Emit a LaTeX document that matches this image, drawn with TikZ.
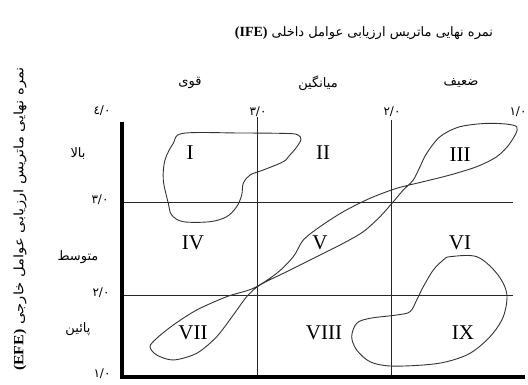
\documentclass[tikz,border=0pt]{standalone}
\usepackage{fontspec}
\setmainfont{Liberation Serif}
\newfontfamily\arabicfont[Script=Arabic]{DejaVu Sans}
\TeXXeTstate=1
\begin{document}
\begin{tikzpicture}[x=1pt,y=-1pt,
  gridline/.style={line width=0.9pt,black!85},
  axisline/.style={line width=3.6pt,black},
  blob/.style={line width=0.9pt,black!80},
  roman/.style={font=\fontsize{21}{22}\selectfont,inner sep=0pt},
  arlab/.style={font=\arabicfont\fontsize{13}{14}\selectfont,inner sep=0pt},
  numlab/.style={font=\arabicfont\fontsize{12}{13}\selectfont,inner sep=0pt},
  titlelab/.style={font=\arabicfont\fontsize{13}{14}\selectfont,inner sep=0pt}]
\useasboundingbox (0,0) rectangle (528,385);
\fill[white] (0,0) rectangle (528,385);

% corner coordinates
\coordinate (axtop) at (122,122);
\coordinate (orig) at (122,377);
\coordinate (axright) at (525,377);

% grid
\draw[gridline] (122,202) coordinate (h1a) -- (513,202) coordinate (h1b);
\draw[gridline] (122,295) coordinate (h2a) -- (513,295) coordinate (h2b);
\draw[gridline] (257,117) coordinate (v1a) -- (257,377) coordinate (v1b);
\draw[gridline] (391,120) coordinate (v2a) -- (391,377) coordinate (v2b);
\draw[axisline] (axtop) -- (orig) -- (axright);

% blobs
\draw[blob] plot[smooth cycle,tension=0.55] coordinates {
 (183.3,133.3) (240,133) (288,133.5) (298,135) (301,139.5) (296,148)
 (289,156) (283.3,161.7)
 (263.3,170) (250,175) (243.3,183.3) (241.7,195) (236.7,206.7)
 (226.7,216.7) (210,221.7) (183.3,221.7) (171.7,215) (168.3,203.3)
 (163.3,180) (165,160) (173.3,143.3)};

\draw[blob] plot[smooth cycle,tension=0.5] coordinates {
 (516.7,126.7) (490,123.3) (460,126.7) (440,136.7) (426.7,153.3)
 (420,166.7) (413.3,180) (403.3,190) (393.3,201.7) (380,216.7)
 (363.3,231.7) (343.3,243.3) (316.7,256.7) (286.7,271.7) (260,285)
 (246.7,296.7) (233.3,315) (216.7,336.7) (196.7,353.3) (173.3,360)
 (156.7,355) (150,346.7) (156.7,338.3) (173.3,325) (196.7,310)
 (226.7,296.7) (253.3,288.3) (276.7,273.3) (293.3,256.7) (303.3,240)
 (320,226.7) (343.3,211.7) (370,198.3) (396.7,188.3) (423.3,181.7)
 (450,175) (476.7,166.7) (496.7,156.7) (510,143.3)};

\draw[blob] plot[smooth cycle,tension=0.55] coordinates {
 (450,256.7) (476.7,256.7) (496.7,273.3) (506.7,293.3) (503.3,316.7)
 (490,336.7) (470,353.3) (446.7,361.7) (423.3,365) (390,366)
 (370,361.7) (356.7,350) (351.7,336.7) (356.7,323.3) (370,318.3)
 (396.7,315) (410,311.7) (416.7,300) (423.3,286.7) (433.3,270)
 (443.3,260)};

% roman numerals
\node[roman] (c1) at (190,153) {I};
\node[roman] (c2) at (323,153) {II};
\node[roman] (c3) at (460,155) {III};
\node[roman] (c4) at (193,243) {IV};
\node[roman] (c5) at (320,243) {V};
\node[roman] (c6) at (460,243) {VI};
\node[roman] (c7) at (193,333) {VII};
\node[roman] (c8) at (324,333) {VIII};
\node[roman] (c9) at (463,333) {IX};

% scale numbers
\node[numlab] (n4) at (102,111) {٤/٠};
\node[numlab] (t3) at (258,112) {٣/٠};
\node[numlab] (t2) at (392,112) {٢/٠};
\node[numlab] (t1) at (518,112) {١/٠};
\node[numlab] (l3) at (100,200) {٣/٠};
\node[numlab] (l2) at (101,293) {٢/٠};
\node[numlab] (l1) at (102,374) {١/٠};

% category labels
\node[arlab] (strong) at (190,83) {\beginR قوی\endR};
\node[arlab] (avg) at (318,83) {\beginR میانگین\endR};
\node[arlab] (weak) at (461,83) {\beginR ضعیف\endR};
\node[arlab] (high) at (78,154) {\beginR بالا\endR};
\node[arlab] (mid) at (78,257) {\beginR متوسط\endR};
\node[arlab] (low) at (78,329) {\beginR پائین\endR};

% titles
\node[titlelab] (title) at (364,33) {\beginR نمره نهایی ماتریس ارزیابی عوامل داخلی \beginL{\rmfamily\bfseries\fontsize{14}{15}\selectfont(IFE)}\endL\endR};
\node[titlelab,rotate=90] (ytitle) at (20,219) {\scalebox{1.14}[1]{\beginR نمره نهایی ماتریس ارزیابی عوامل خارجی \beginL{\rmfamily\bfseries\fontsize{14}{15}\selectfont(EFE)}\endL\endR}};
\end{tikzpicture}
\end{document}
